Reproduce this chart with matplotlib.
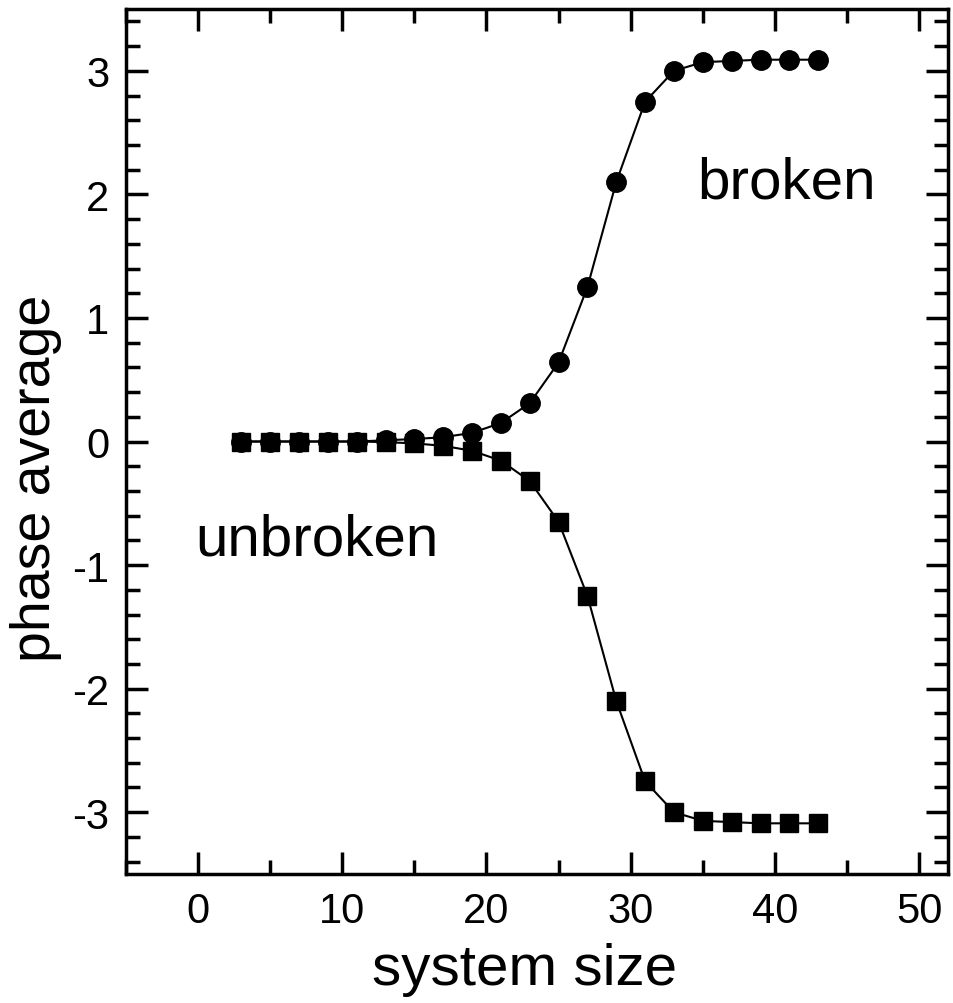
import numpy as np
import matplotlib.pyplot as plt
from matplotlib.ticker import MultipleLocator

plt.rcParams['font.family'] = ['Liberation Sans', 'DejaVu Sans']
plt.rcParams['axes.unicode_minus'] = False

# system sizes and phase averages
size = [3, 5, 7, 9, 11, 13, 15, 17, 19, 21, 23, 25, 27, 29, 31, 33, 35, 37, 39, 41, 43]
broken = [0.0, 0.0, 0.0, 0.0, 0.0, 0.01, 0.02, 0.035, 0.07, 0.15, 0.31, 0.64,
          1.25, 2.10, 2.75, 3.00, 3.07, 3.08, 3.09, 3.09, 3.09]
unbroken = [0.0, 0.0, 0.0, 0.0, 0.0, -0.005, -0.015, -0.035, -0.075, -0.155, -0.32, -0.65,
            -1.25, -2.10, -2.75, -3.00, -3.07, -3.08, -3.09, -3.09, -3.09]

fig = plt.figure(figsize=(9.54, 10.04), dpi=100)
ax = fig.add_axes([0.132, 0.1285, 0.8617, 0.8615])

ax.plot(size, broken, '-', color='black', lw=1.5, marker='o', ms=14)
ax.plot(size, unbroken, '-', color='black', lw=1.5, marker='s', ms=12.5)

ax.text(34.6, 2.1, 'broken', fontsize=42, va='center', ha='left')
ax.text(-0.2, -0.79, 'unbroken', fontsize=42, va='center', ha='left')

ax.set_xlim(-5, 52)
ax.set_ylim(-3.5, 3.5)
ax.xaxis.set_major_locator(MultipleLocator(10))
ax.xaxis.set_minor_locator(MultipleLocator(5))
ax.yaxis.set_major_locator(MultipleLocator(1))
ax.yaxis.set_minor_locator(MultipleLocator(0.2))

ax.tick_params(which='both', direction='in', top=True, right=True, width=2.5, labelsize=30)
ax.tick_params(which='major', length=16, pad=12)
ax.tick_params(which='minor', length=10)
for s in ax.spines.values():
    s.set_linewidth(2.5)

ax.set_xlabel('system size', fontsize=42)
ax.set_ylabel('phase average', fontsize=40)
ax.xaxis.set_label_coords(0.485, -0.079)
ax.yaxis.set_label_coords(-0.078, 0.459)

fig.savefig('out.png', dpi=100)
